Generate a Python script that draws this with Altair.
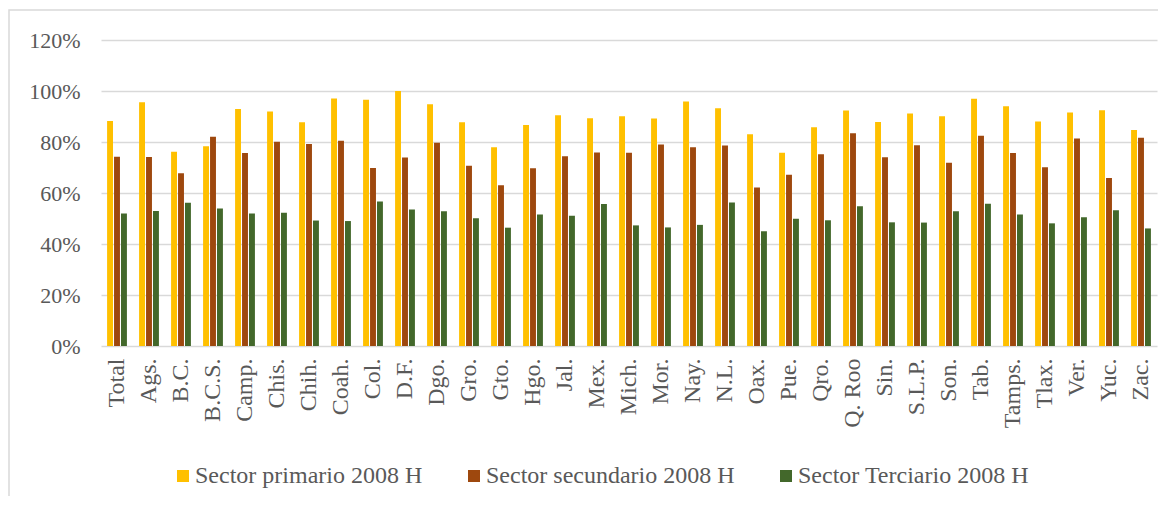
import altair as alt
import pandas as pd

estados = ["Total", "Ags.", "B.C.", "B.C.S.", "Camp.", "Chis.", "Chih.", "Coah.", "Col.", "D.F.",
           "Dgo.", "Gro.", "Gto.", "Hgo.", "Jal.", "Mex.", "Mich.", "Mor.", "Nay.", "N.L.",
           "Oax.", "Pue.", "Qro.", "Q. Roo", "Sin.", "S.L.P.", "Son.", "Tab.", "Tamps.", "Tlax.",
           "Ver.", "Yuc.", "Zac."]

series = ["Sector primario 2008 H", "Sector secundario 2008 H", "Sector Terciario 2008 H"]

primario = [88.2, 95.6, 76.2, 78.3, 92.9, 92.0, 87.7, 97.1, 96.6, 100.0,
            94.8, 87.7, 77.9, 86.7, 90.5, 89.3, 90.1, 89.2, 95.9, 93.2,
            83.0, 75.8, 85.8, 92.4, 87.8, 91.2, 90.1, 97.0, 94.0, 88.0,
            91.6, 92.5, 84.7]
secundario = [74.2, 74.1, 67.7, 82.1, 75.7, 80.1, 79.2, 80.5, 69.8, 73.9,
              79.7, 70.7, 63.0, 69.7, 74.4, 75.9, 75.8, 79.0, 77.9, 78.6,
              62.2, 67.2, 75.2, 83.4, 74.0, 78.7, 71.9, 82.5, 75.7, 70.1,
              81.4, 65.9, 81.7]
terciario = [52.0, 52.9, 56.2, 53.9, 52.0, 52.3, 49.2, 49.0, 56.7, 53.5,
             52.8, 50.1, 46.4, 51.6, 51.1, 55.7, 47.3, 46.5, 47.5, 56.3,
             45.0, 49.9, 49.3, 54.8, 48.5, 48.4, 52.8, 55.8, 51.6, 48.1,
             50.5, 53.2, 46.1]

colores = ["#FFC000", "#9E480E", "#43682B"]
y_ticks = [0, 20, 40, 60, 80, 100, 120]

rows = []
for serie, vals in zip(series, [primario, secundario, terciario]):
    for e, v in zip(estados, vals):
        rows.append({"estado": e, "serie": serie, "valor": v})
df = pd.DataFrame(rows)

FONT = "Liberation Serif"
GRAY = "#595959"

bars = alt.Chart(df).mark_bar().encode(
    x=alt.X("estado:N", sort=estados, title=None,
            scale=alt.Scale(paddingInner=0.38, paddingOuter=0.19),
            axis=alt.Axis(labelAngle=-90, labelFont=FONT, labelFontSize=24, labelColor=GRAY,
                          ticks=False, domain=False, labelPadding=12, grid=False)),
    xOffset=alt.XOffset("serie:N", sort=series, scale=alt.Scale(paddingInner=0.15)),
    y=alt.Y("valor:Q", title=None,
            scale=alt.Scale(domain=[0, 120], nice=False),
            axis=alt.Axis(values=y_ticks, labelExpr="datum.value + '%'", labelFont=FONT,
                          labelFontSize=22, labelColor=GRAY, ticks=False, domain=False,
                          labelPadding=21, grid=True, gridColor="#D9D9D9", gridWidth=1.5)),
    color=alt.Color("serie:N", sort=series, title=None,
                    scale=alt.Scale(domain=series, range=colores),
                    legend=alt.Legend(orient="none", legendX=70, legendY=424, direction="horizontal",
                                      symbolType="square", symbolSize=144, symbolStrokeWidth=0,
                                      labelFont=FONT, labelFontSize=24, labelColor=GRAY,
                                      labelLimit=0, labelOffset=0, columnPadding=39, padding=0)),
)

border = alt.Chart(pd.DataFrame({"a": [0]})).mark_rect(
    fillOpacity=0, stroke="#D9D9D9", strokeWidth=1.5, clip=False
).encode(
    x=alt.value(-92), y=alt.value(-30), x2=alt.value(1200), y2=alt.value(520)
)

chart = alt.layer(border, bars).properties(
    width=1056, height=306,
    autosize=alt.AutoSizeParams(type="none"),
    padding={"left": 93, "top": 32, "right": 1, "bottom": 150},
).configure_view(stroke=None).configure_axisY(
    labelFont=FONT, labelFontSize=22, labelColor=GRAY
).configure_legend(labelFont=FONT, labelFontSize=24, labelColor=GRAY, labelLimit=0)

chart.save("out.html", embed_options={"renderer": "svg", "actions": False})
